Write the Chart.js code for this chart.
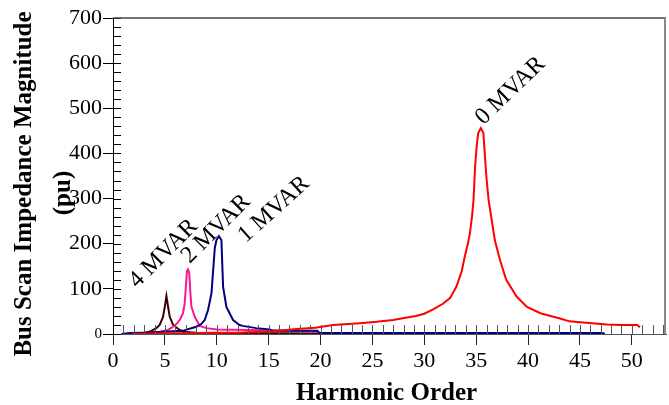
<!DOCTYPE html>
<html>
<head>
<meta charset="utf-8">
<script src="https://cdn.jsdelivr.net/npm/chart.js@4.4.1/dist/chart.umd.min.js"></script>
<style>
  html, body { margin: 0; padding: 0; background: #fff; }
  #wrap { width: 669px; height: 405px; }
</style>
</head>
<body>
<div id="wrap"><canvas id="chart" width="669" height="405"></canvas></div>
<script>
// ── Data ────────────────────────────────────────────────────
const redHarmonic = [1.8, 4, 6, 8, 10, 12.2, 12.9, 15, 17.7, 19.5, 21.2, 23.8, 25.4, 27, 28.2, 29.2, 30, 30.9, 31.8, 32.5, 33.1, 33.6, 33.9, 34.2, 34.4, 34.6, 34.75, 34.9, 35.05, 35.2, 35.45, 35.7, 35.85, 36.0, 36.2, 36.5, 36.8, 37.3, 37.9, 38.9, 39.9, 41.2, 42, 43, 44, 45.6, 47.6, 49, 50.5, 50.8];
const redMagnitude = [0, 1, 1.5, 2, 2.5, 3, 4, 5, 11, 14, 20, 24, 27, 31, 36, 40, 45, 55, 67, 80, 105, 138, 171, 200, 223, 260, 297, 371, 415, 445, 456, 445, 393, 345, 297, 253, 208, 164, 120, 83, 60, 46, 41, 35, 28, 25, 21, 20, 20, 15];

const blueHarmonic = [0.8, 1.7, 3, 5, 6.7, 7.7, 8.04, 8.5, 8.84, 9.16, 9.49, 9.81, 9.97, 10.21, 10.45, 10.61, 10.93, 11.57, 12.2, 12.5, 13.8, 15.1, 15.4, 19.7, 19.9, 47.2, 47.4];
const blueMagnitude = [0, 2, 3, 5, 7, 14, 16, 22, 31, 53, 90, 190, 208, 217, 208, 105, 60, 31, 20, 18, 13, 10, 7, 7, 2, 2, 0];

const pinkHarmonic = [1.2, 3, 4.5, 5.3, 5.79, 6.2, 6.43, 6.75, 6.91, 7.13, 7.23, 7.35, 7.46, 7.56, 7.88, 8.36, 9.0, 10, 13, 17.4, 19.6, 20, 47.2];
const pinkMagnitude = [0, 2, 5, 9, 16, 24, 31, 46, 68, 140, 143, 135, 90, 60, 38, 18, 13, 10, 9, 7, 5, 2, 1];

const brownHarmonic = [1.8, 2.9, 3.7, 4.18, 4.5, 4.82, 4.99, 5.15, 5.31, 5.47, 5.79, 6.43, 6.75, 8, 12, 20, 47];
const brownMagnitude = [0, 1, 7, 13, 20, 38, 60, 84, 60, 38, 20, 9, 5, 3, 2, 1, 1];

const xTickStep = 5;
const yTickStep = 100;

// etichette ruotate sulle curve (ancorate in coordinate dati)
const curveLabels = ['4 MVAR', '2 MVAR', '1 MVAR', '0 MVAR'];
const curveLabelHarmonic = [2.33, 7.4, 12.8, 35.7];
const curveLabelMagnitude = [100, 155, 201, 462];

// ── Stili ───────────────────────────────────────────────────
const SERIF = "'Liberation Serif', 'Times New Roman', serif";
const labelAngles = [45, 45, 42, 44];

function toPoints(xs, ys) {
    return xs.map((x, i) => ({ x: x, y: ys[i] }));
}

function series(xs, ys, color) {
    return {
        data: toPoints(xs, ys),
        borderColor: color,
        backgroundColor: color,
        borderWidth: 2,
        pointRadius: 0,
        tension: 0,
        fill: false,
    };
}

// ── Plugin: tick minori, cornice, titoli, etichette ─────────
const decorations = {
    id: 'decorations',
    afterDatasetsDraw(chart) {
        const { ctx, chartArea, scales } = chart;
        const xs = scales.x, ys = scales.y;
        ctx.save();

        // tick minori asse Y (ogni 20) verso l'interno
        ctx.strokeStyle = '#000';
        ctx.lineWidth = 1;
        for (let v = 0; v <= 700; v += 20) {
            const py = Math.round(ys.getPixelForValue(v)) + 0.5;
            ctx.beginPath();
            ctx.moveTo(chartArea.left, py);
            ctx.lineTo(chartArea.left + 8, py);
            ctx.stroke();
        }
        // tick minori asse X (ogni 1) verso l'interno
        ctx.strokeStyle = '#555';
        for (let h = 1; h <= 53; h++) {
            const px = Math.round(xs.getPixelForValue(h)) + 0.5;
            ctx.beginPath();
            ctx.moveTo(px, chartArea.bottom);
            ctx.lineTo(px, chartArea.bottom - 9);
            ctx.stroke();
        }
        // cornice superiore e destra
        ctx.strokeStyle = '#444';
        ctx.lineWidth = 1.5;
        ctx.beginPath();
        ctx.moveTo(chartArea.left, chartArea.top);
        ctx.lineTo(chartArea.right, chartArea.top);
        ctx.stroke();
        ctx.strokeStyle = '#888';
        ctx.lineWidth = 2;
        ctx.beginPath();
        ctx.moveTo(chartArea.right - 1, chartArea.top);
        ctx.lineTo(chartArea.right - 1, chartArea.bottom);
        ctx.stroke();

        // etichette MVAR
        ctx.fillStyle = '#000';
        ctx.font = '24px ' + SERIF;
        ctx.textAlign = 'left';
        ctx.textBaseline = 'alphabetic';
        curveLabels.forEach((txt, i) => {
            const px = xs.getPixelForValue(curveLabelHarmonic[i]);
            const py = ys.getPixelForValue(curveLabelMagnitude[i]);
            ctx.save();
            ctx.translate(px, py);
            ctx.rotate(-labelAngles[i] * Math.PI / 180);
            ctx.fillText(txt, 0, 0);
            ctx.restore();
        });

        // titoli assi
        ctx.font = 'bold 25px ' + SERIF;
        ctx.textAlign = 'center';
        ctx.textBaseline = 'middle';
        ctx.save();
        ctx.translate(25, 184);
        ctx.rotate(-Math.PI / 2);
        ctx.fillText('Bus Scan Impedance Magnitude', 0, 0);
        ctx.restore();
        ctx.save();
        ctx.translate(64, 193);
        ctx.rotate(-Math.PI / 2);
        ctx.fillText('(pu)', 0, 0);
        ctx.restore();
        ctx.textBaseline = 'alphabetic';
        ctx.fillText('Harmonic Order', (chartArea.left + chartArea.right) / 2 - 3, 400);

        ctx.restore();
    },
};

new Chart(document.getElementById('chart'), {
    type: 'line',
    data: {
        datasets: [
            series(redHarmonic, redMagnitude, '#ff0000'),
            series(blueHarmonic, blueMagnitude, '#000080'),
            series(pinkHarmonic, pinkMagnitude, '#ff1493'),
            series(brownHarmonic, brownMagnitude, '#3a0000'),
        ],
    },
    options: {
        responsive: false,
        animation: false,
        devicePixelRatio: 1,
        layout: { padding: { top: 18, right: 3, left: 0, bottom: 0 } },
        plugins: {
            legend: { display: false },
            tooltip: { enabled: false },
        },
        scales: {
            x: {
                type: 'linear',
                min: 0,
                max: 53.3,
                afterFit(scale) { scale.height = 71; },
                border: { color: '#555', width: 1 },
                grid: {
                    drawOnChartArea: false,
                    drawTicks: true,
                    tickLength: 11,
                    color: '#222',
                },
                ticks: {
                    stepSize: xTickStep,
                    includeBounds: false,
                    color: '#000',
                    padding: 3,
                    maxRotation: 0,
                    font: { family: SERIF, size: 22 },
                },
            },
            y: {
                min: 0,
                max: 700,
                afterFit(scale) { scale.width = 113; },
                border: { color: '#000', width: 1 },
                grid: {
                    drawOnChartArea: false,
                    drawTicks: true,
                    tickLength: 10,
                    color: '#000',
                },
                ticks: {
                    stepSize: yTickStep,
                    color: '#000',
                    padding: 1,
                    font: (c) => ({ family: SERIF, size: c.tick && c.tick.value === 0 ? 15 : 22 }),
                },
            },
        },
    },
    plugins: [decorations],
});
</script>
</body>
</html>
